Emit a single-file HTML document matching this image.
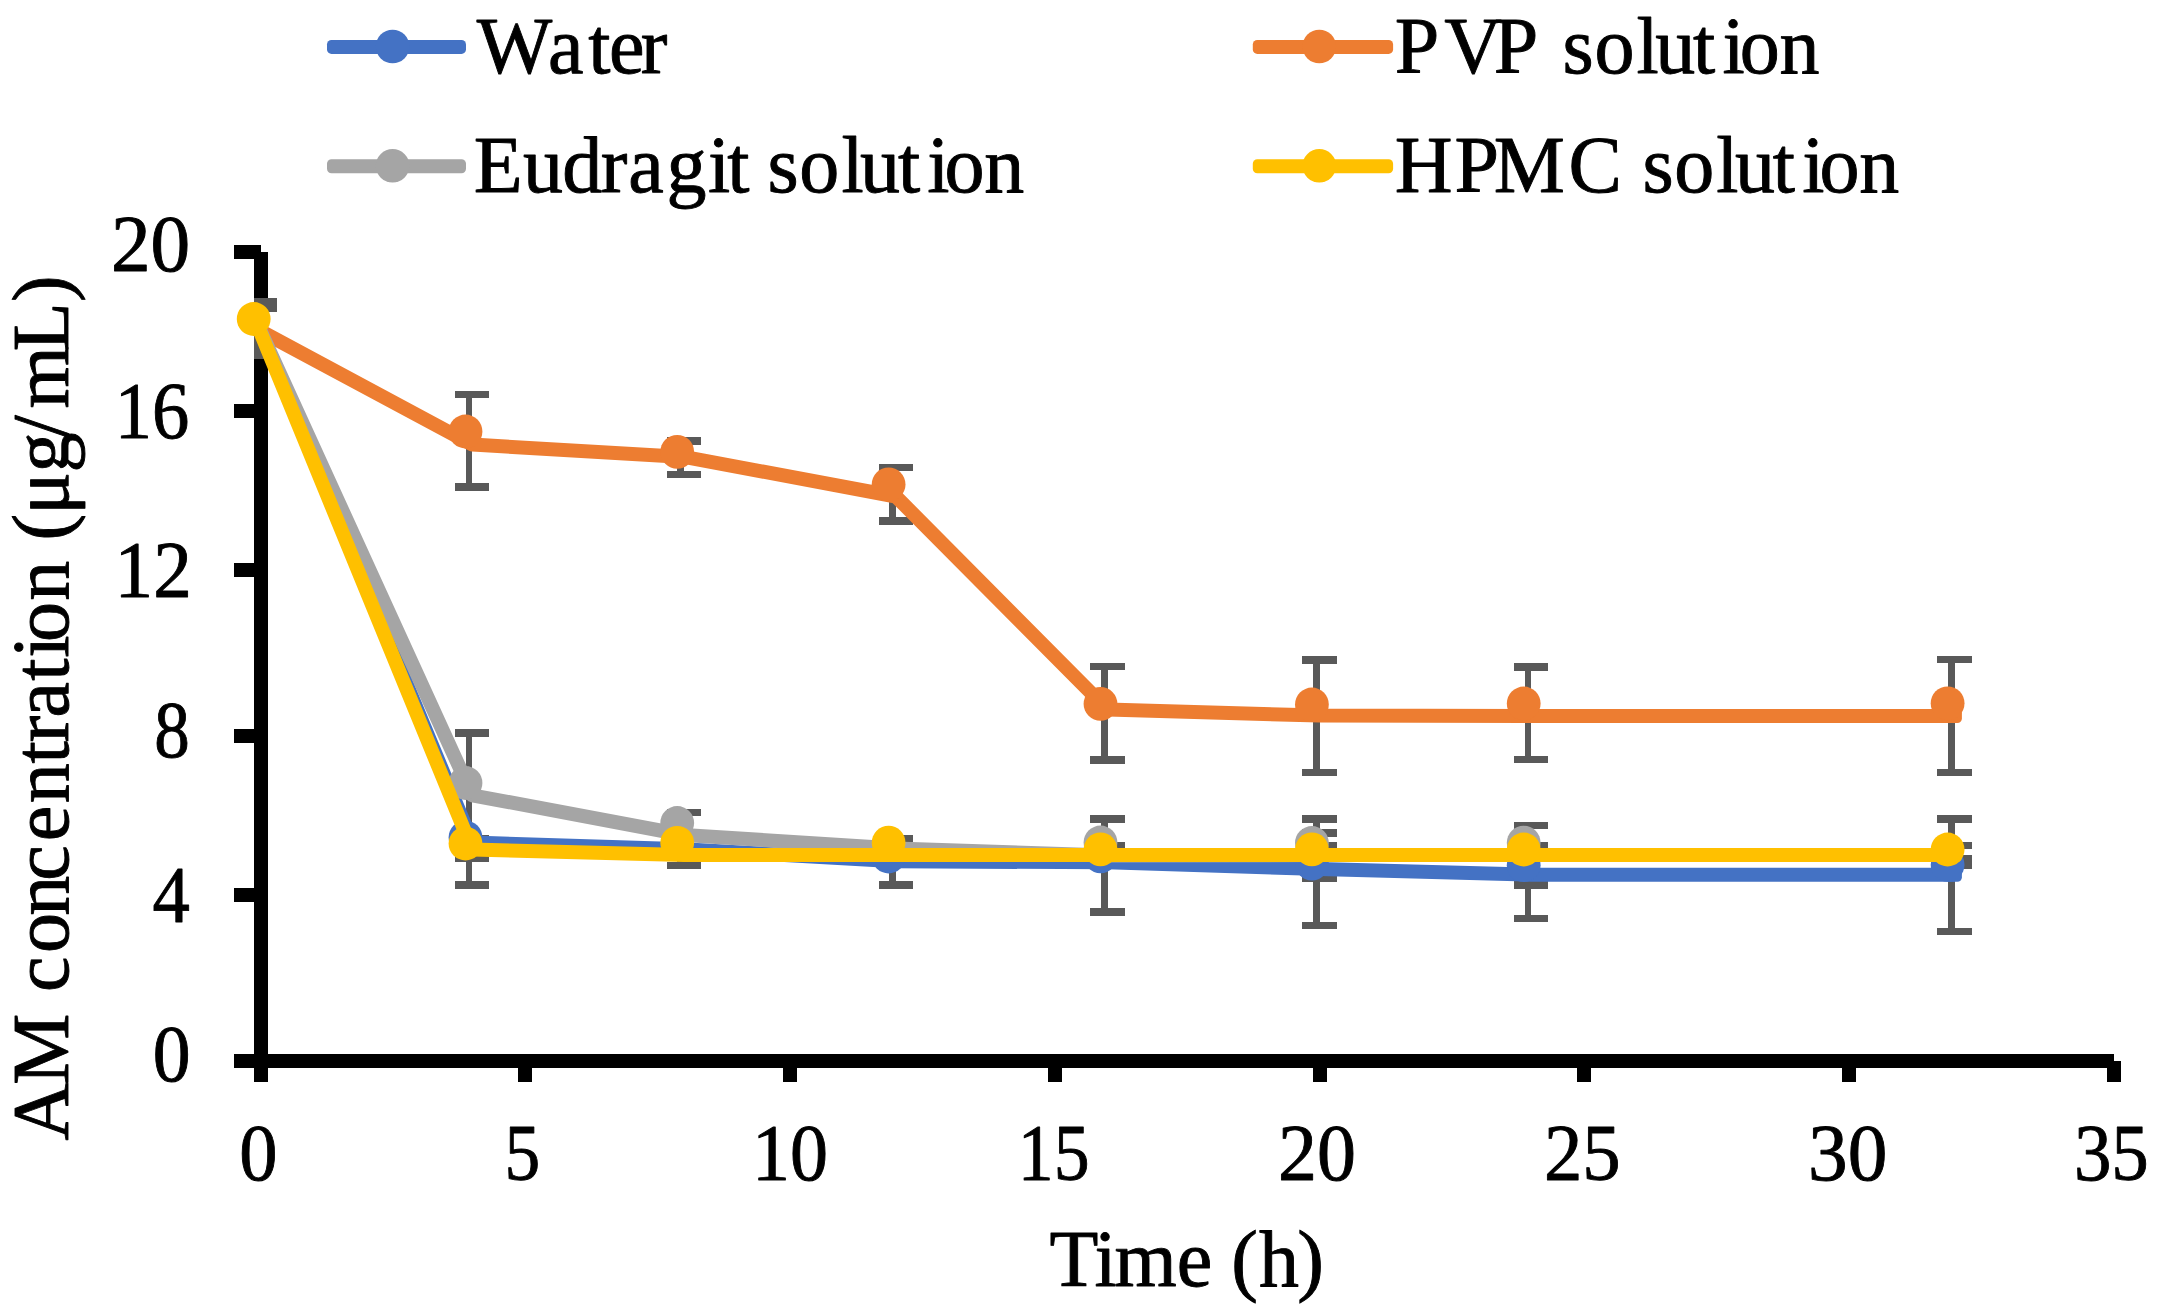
<!DOCTYPE html>
<html lang="en"><head><meta charset="utf-8"><title>AM concentration vs time</title>
<style>
html,body{margin:0;padding:0;background:#fff;}
body{width:2181px;height:1311px;overflow:hidden;}
svg{display:block;}
text{font-family:"Liberation Serif","Times New Roman",serif;font-size:80px;fill:#000;font-kerning:none;stroke:#000;stroke-width:0.9px;stroke-linejoin:round;}
</style></head>
<body>
<svg width="2181" height="1311" viewBox="0 0 2181 1311">
<rect width="2181" height="1311" fill="#fff"/>
<defs><clipPath id="plot"><rect x="254" y="200" width="1900" height="900"/></clipPath></defs>
<g fill="#000" shape-rendering="crispEdges">
<rect x="254" y="252" width="14" height="830"/>
<rect x="234" y="1054" width="1880" height="14"/>
<rect x="234" y="244.8" width="27" height="14"/>
<rect x="234" y="404.0" width="27" height="14"/>
<rect x="234" y="563.0" width="27" height="14"/>
<rect x="234" y="729.1" width="27" height="14"/>
<rect x="234" y="888.0" width="27" height="14"/>
<rect x="518.0" y="1061" width="14" height="21"/>
<rect x="782.9" y="1061" width="14" height="21"/>
<rect x="1048.1" y="1061" width="14" height="21"/>
<rect x="1312.9" y="1061" width="14" height="21"/>
<rect x="1577.0" y="1061" width="14" height="21"/>
<rect x="1842.0" y="1061" width="14" height="21"/>
<rect x="2107.0" y="1061" width="14" height="21"/>
</g>
<g fill="#595959" clip-path="url(#plot)" shape-rendering="crispEdges">
<rect x="253.8" y="302.0" width="6.8" height="53.0"/>
<rect x="242.8" y="298.2" width="34.0" height="7.5"/>
<rect x="242.8" y="304.2" width="34.0" height="7.5"/>
<rect x="242.8" y="351.2" width="34.0" height="7.5"/>
<rect x="465.6" y="394.6" width="6.8" height="92.5"/>
<rect x="455.2" y="390.9" width="33.9" height="7.5"/>
<rect x="455.2" y="483.4" width="33.9" height="7.5"/>
<rect x="465.6" y="733.0" width="6.8" height="152.0"/>
<rect x="455.2" y="729.2" width="33.9" height="7.5"/>
<rect x="455.2" y="834.6" width="33.9" height="7.5"/>
<rect x="455.2" y="854.2" width="33.9" height="7.5"/>
<rect x="455.2" y="881.2" width="33.9" height="7.5"/>
<rect x="677.3" y="441.1" width="6.8" height="33.5"/>
<rect x="667.3" y="437.4" width="33.6" height="7.5"/>
<rect x="667.3" y="470.9" width="33.6" height="7.5"/>
<rect x="677.3" y="812.5" width="6.8" height="52.7"/>
<rect x="667.3" y="808.8" width="33.6" height="7.5"/>
<rect x="667.3" y="861.5" width="33.6" height="7.5"/>
<rect x="889.2" y="467.5" width="6.8" height="53.2"/>
<rect x="879.2" y="463.8" width="33.7" height="7.5"/>
<rect x="879.2" y="517.0" width="33.7" height="7.5"/>
<rect x="889.2" y="838.6" width="6.8" height="46.4"/>
<rect x="879.2" y="834.9" width="33.7" height="7.5"/>
<rect x="879.2" y="881.2" width="33.7" height="7.5"/>
<rect x="1101.0" y="666.5" width="6.8" height="93.2"/>
<rect x="1089.9" y="662.8" width="35.1" height="7.5"/>
<rect x="1089.9" y="756.0" width="35.1" height="7.5"/>
<rect x="1101.0" y="819.0" width="6.8" height="93.1"/>
<rect x="1089.9" y="815.2" width="35.1" height="7.5"/>
<rect x="1089.9" y="841.5" width="35.1" height="7.5"/>
<rect x="1089.9" y="908.4" width="35.1" height="7.5"/>
<rect x="1312.7" y="659.7" width="6.8" height="112.9"/>
<rect x="1302.0" y="656.0" width="35.0" height="7.5"/>
<rect x="1302.0" y="768.9" width="35.0" height="7.5"/>
<rect x="1312.7" y="819.0" width="6.8" height="106.3"/>
<rect x="1302.0" y="815.2" width="35.0" height="7.5"/>
<rect x="1302.0" y="829.0" width="35.0" height="7.5"/>
<rect x="1302.0" y="841.5" width="35.0" height="7.5"/>
<rect x="1302.0" y="874.5" width="35.0" height="7.5"/>
<rect x="1302.0" y="921.5" width="35.0" height="7.5"/>
<rect x="1524.5" y="666.7" width="6.8" height="92.8"/>
<rect x="1513.9" y="663.0" width="34.2" height="7.5"/>
<rect x="1513.9" y="755.8" width="34.2" height="7.5"/>
<rect x="1524.5" y="825.5" width="6.8" height="93.0"/>
<rect x="1513.9" y="821.8" width="34.2" height="7.5"/>
<rect x="1513.9" y="841.8" width="34.2" height="7.5"/>
<rect x="1513.9" y="881.4" width="34.2" height="7.5"/>
<rect x="1513.9" y="914.8" width="34.2" height="7.5"/>
<rect x="1948.1" y="659.5" width="6.8" height="112.9"/>
<rect x="1936.9" y="655.8" width="35.1" height="7.5"/>
<rect x="1936.9" y="768.6" width="35.1" height="7.5"/>
<rect x="1948.1" y="819.0" width="6.8" height="112.5"/>
<rect x="1936.9" y="815.2" width="35.1" height="7.5"/>
<rect x="1936.9" y="841.6" width="35.1" height="7.5"/>
<rect x="1936.9" y="854.8" width="35.1" height="7.5"/>
<rect x="1936.9" y="861.5" width="35.1" height="7.5"/>
<rect x="1936.9" y="927.8" width="35.1" height="7.5"/>
</g>
<polyline fill="none" stroke="#4472C4" stroke-width="14" stroke-linejoin="round" stroke-linecap="butt" points="260.5,331.0 472.3,842.5 684.0,849.2 895.9,861.3 1107.7,862.3 1319.4,869.0 1531.2,874.7 1954.8,874.7"/>
<rect x="1945.9" y="867.7" width="16" height="14" rx="4.5" fill="#4472C4"/>
<g fill="#4472C4"><circle cx="465.5" cy="837.5" r="16.9"/><circle cx="888.6" cy="856.5" r="16.9"/><circle cx="1100.5" cy="856.3" r="16.9"/><circle cx="1311.9" cy="863.6" r="16.9"/><circle cx="1523.7" cy="865.2" r="16.9"/><circle cx="1947.6" cy="864.8" r="16.9"/></g>
<polyline fill="none" stroke="#ED7D31" stroke-width="14" stroke-linejoin="round" stroke-linecap="butt" points="260.5,331.0 472.3,444.6 684.0,456.9 895.9,496.5 1107.7,709.6 1319.4,715.6 1531.2,716.0 1954.8,716.0"/>
<rect x="1945.9" y="709.0" width="16" height="14" rx="4.5" fill="#ED7D31"/>
<g fill="#ED7D31"><circle cx="465.5" cy="431.5" r="16.9"/><circle cx="677.2" cy="451.8" r="16.9"/><circle cx="888.6" cy="484.4" r="16.9"/><circle cx="1100.5" cy="703.9" r="16.9"/><circle cx="1311.9" cy="704.5" r="16.9"/><circle cx="1523.7" cy="703.5" r="16.9"/><circle cx="1947.6" cy="703.3" r="16.9"/></g>
<polyline fill="none" stroke="#A5A5A5" stroke-width="14" stroke-linejoin="round" stroke-linecap="butt" points="260.5,331.0 472.3,795.3 684.0,835.0 895.9,848.4 1107.7,855.5 1319.4,855.1 1531.2,855.0"/>
<rect x="1522.3" y="848.0" width="16" height="14" rx="4.5" fill="#A5A5A5"/>
<g fill="#A5A5A5"><circle cx="465.5" cy="783.0" r="16.9"/><circle cx="677.2" cy="823.0" r="16.9"/><circle cx="1100.5" cy="842.5" r="16.9"/><circle cx="1311.9" cy="843.0" r="16.9"/><circle cx="1523.7" cy="842.7" r="16.9"/></g>
<polyline fill="none" stroke="#FFC000" stroke-width="14" stroke-linejoin="round" stroke-linecap="butt" points="260.5,332.5 472.3,849.6 684.0,855.1 895.9,855.1 1107.7,855.1 1319.4,855.1 1531.2,855.0 1954.8,855.0"/>
<rect x="1945.9" y="848.0" width="16" height="14" rx="4.5" fill="#FFC000"/>
<g fill="#FFC000"><circle cx="253.7" cy="319.0" r="16.9"/><circle cx="465.5" cy="843.5" r="16.9"/><circle cx="677.2" cy="842.8" r="16.9"/><circle cx="888.6" cy="842.7" r="16.9"/><circle cx="1100.5" cy="849.4" r="16.9"/><circle cx="1311.9" cy="849.4" r="16.9"/><circle cx="1523.7" cy="849.5" r="16.9"/><circle cx="1947.6" cy="849.5" r="16.9"/></g>
<rect x="327.0" y="39.9" width="139.0" height="14" rx="4.5" fill="#4472C4"/><circle cx="392.6" cy="46.5" r="16.8" fill="#4472C4"/>
<rect x="327.0" y="159.2" width="139.0" height="14" rx="4.5" fill="#A5A5A5"/><circle cx="392.6" cy="165.8" r="16.8" fill="#A5A5A5"/>
<rect x="1252.8" y="39.9" width="140.3" height="14" rx="4.5" fill="#ED7D31"/><circle cx="1319.3" cy="46.5" r="16.8" fill="#ED7D31"/>
<rect x="1252.8" y="159.2" width="140.3" height="14" rx="4.5" fill="#FFC000"/><circle cx="1319.3" cy="165.8" r="16.8" fill="#FFC000"/>
<text y="72.6" x="476.8 548.0 588.2 608.9 640.7">Water</text>
<text y="192.1" x="473.7 523.0 562.2 600.7 628.2 666.6 708.1 727.3 747.3 767.5 799.3 841.4 860.1 897.9 927.3 944.6 984.3">Eudragit solution</text>
<text y="72.6" x="1394.8 1444.2 1493.8 1513.8 1562.6 1594.4 1636.5 1655.2 1693.0 1722.4 1739.7 1779.4">PVP solution</text>
<text y="192.1" x="1394.8 1454.5 1493.8 1568.5 1588.5 1642.4 1674.2 1716.3 1735.0 1772.8 1802.2 1819.5 1859.2">HPMC solution</text>
<text x="110.9" y="271.0" textLength="79.3" lengthAdjust="spacingAndGlyphs">20</text>
<text x="114.8" y="438.2" textLength="74.6" lengthAdjust="spacingAndGlyphs">16</text>
<text x="114.6" y="597.2" textLength="77.3" lengthAdjust="spacingAndGlyphs">12</text>
<text x="154.3" y="756.7" textLength="35.5" lengthAdjust="spacingAndGlyphs">8</text>
<text x="152.4" y="921.9" textLength="37.4" lengthAdjust="spacingAndGlyphs">4</text>
<text x="152.7" y="1081.4" textLength="37.8" lengthAdjust="spacingAndGlyphs">0</text>
<text x="239.3" y="1180.2" textLength="38.3" lengthAdjust="spacingAndGlyphs">0</text>
<text x="504.4" y="1180.2" textLength="35.7" lengthAdjust="spacingAndGlyphs">5</text>
<text x="752.0" y="1180.2" textLength="76.0" lengthAdjust="spacingAndGlyphs">10</text>
<text x="1017.8" y="1180.2" textLength="71.7" lengthAdjust="spacingAndGlyphs">15</text>
<text x="1278.0" y="1180.2" textLength="78.0" lengthAdjust="spacingAndGlyphs">20</text>
<text x="1543.9" y="1180.2" textLength="76.7" lengthAdjust="spacingAndGlyphs">25</text>
<text x="1808.0" y="1180.2" textLength="79.3" lengthAdjust="spacingAndGlyphs">30</text>
<text x="2073.9" y="1180.2" textLength="74.9" lengthAdjust="spacingAndGlyphs">35</text>
<text y="1285.7" x="1049.4 1094.4 1114.4 1176.8 1196.8 1231.3 1259.0 1297.3">Time (h)</text>
<text transform="translate(67.8,1140.7) rotate(-90)" y="0" x="0.2 56.0 76.0 148.6 187.7 224.9 259.9 299.4 337.4 377.1 398.3 423.1 459.9 483.0 498.6 539.9 559.9 600.3 625.9 668.3 703.3 732.1 789.4 838.8">AM concentration (μg/mL)</text>
</svg>
</body></html>
